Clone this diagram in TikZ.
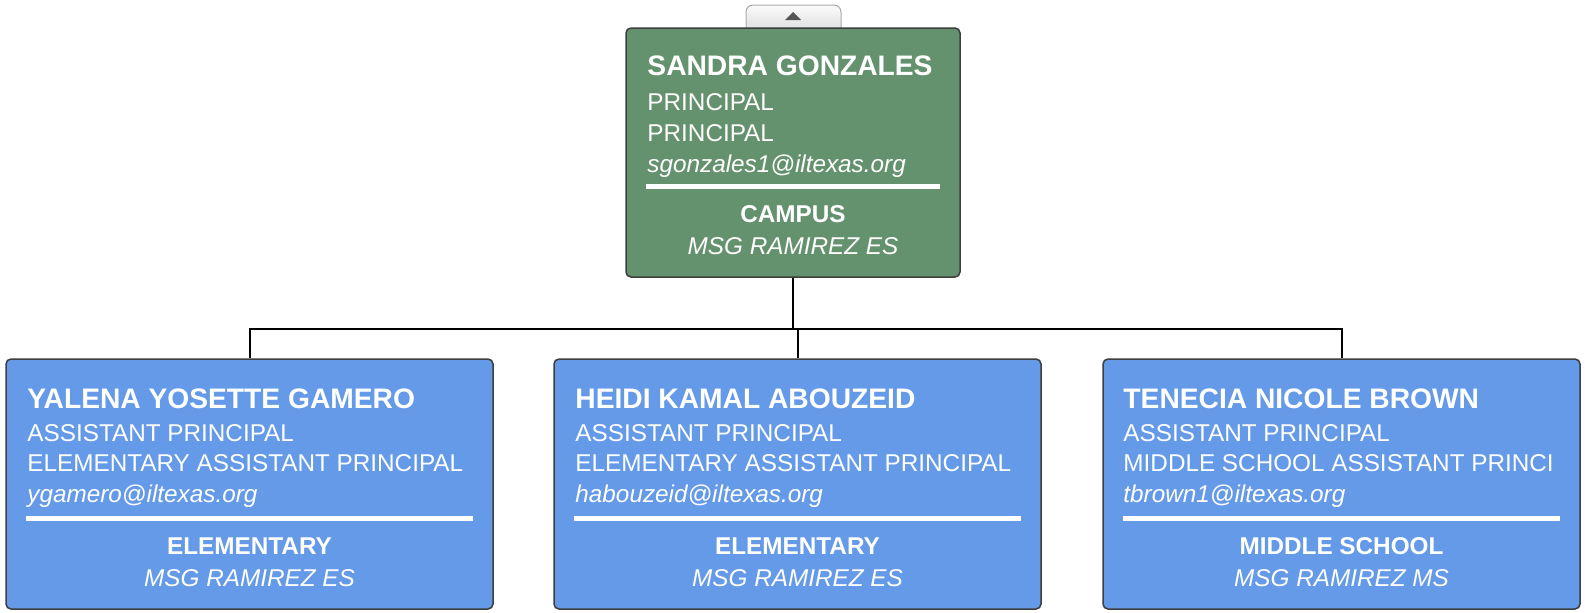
\documentclass[tikz,border=0pt]{standalone}
\usepackage{fontspec}
\setmainfont{Liberation Sans}
\usetikzlibrary{calc}
\definecolor{boxgreen}{RGB}{101,146,110}
\definecolor{boxblue}{RGB}{100,154,232}
\definecolor{boxborder}{RGB}{62,62,62}
\definecolor{tabborder}{RGB}{170,170,170}
\definecolor{tabtop}{RGB}{250,250,250}
\definecolor{tabbot}{RGB}{225,225,225}
\definecolor{arrowgray}{RGB}{85,85,85}
\tikzset{
  person/.style={draw=boxborder, line width=1.5pt, rounded corners=5pt, inner sep=0pt},
  greenbox/.style={person, fill=boxgreen},
  bluebox/.style={person, fill=boxblue},
  nm/.style={text=white, inner sep=0pt, anchor=base west, font=\fontsize{28.2}{30}\selectfont\bfseries},
  ln/.style={text=white, inner sep=0pt, anchor=base west, font=\fontsize{24.3}{30}\selectfont},
  em/.style={ln, font=\fontsize{24.3}{30}\selectfont\itshape},
  dept/.style={text=white, inner sep=0pt, anchor=base, font=\fontsize{24.3}{30}\selectfont\bfseries},
  camp/.style={text=white, inner sep=0pt, anchor=base, font=\fontsize{24.3}{30}\selectfont\itshape},
  sepline/.style={white, line width=5.5pt},
  conn/.style={black, line width=2pt},
}
\begin{document}
\begin{tikzpicture}[x=1pt,y=1pt]
\useasboundingbox (0,0) rectangle (1585,-613);

% collapse tab
\draw[tabborder, line width=1pt, top color=tabtop, bottom color=tabbot, rounded corners=7pt]
  (746,-29) -- (746,-5) -- (841,-5) -- (841,-29);
\fill[arrowgray] (785,-20) -- (801,-20) -- (793,-12) -- cycle;

% boxes
\node[greenbox, minimum width=334pt, minimum height=249pt] (top) at (793,-152.5) {};
\node[bluebox, minimum width=487pt, minimum height=250pt] (b1) at (249.5,-484) {};
\node[bluebox, minimum width=487pt, minimum height=250pt] (b2) at (797.5,-484) {};
\node[bluebox, minimum width=477pt, minimum height=250pt] (b3) at (1341.5,-484) {};

% connectors
\coordinate (bus) at (top.south |- 0,-329);
\draw[conn] (top.south) -- (bus);
\draw[conn] (b1.north) |- (bus);
\draw[conn] (b3.north) |- (bus);
\draw[conn] (b2.north) -- (b2.north |- bus);

% top box text
\node[nm] (t1) at ([xshift=22pt,yshift=-48pt]top.north west) {SANDRA GONZALES};
\node[ln] (t2) at ([xshift=22pt,yshift=-83pt]top.north west) {PRINCIPAL};
\node[ln] (t3) at ([xshift=22pt,yshift=-114pt]top.north west) {PRINCIPAL};
\node[em] (t4) at ([xshift=22pt,yshift=-145pt]top.north west) {sgonzales1@iltexas.org};
\draw[sepline] ([xshift=21pt,yshift=-159pt]top.north west) -- ([xshift=-21pt,yshift=-159pt]top.north east);
\node[dept] (t5) at ([yshift=-195pt]top.north) {CAMPUS};
\node[camp] (t6) at ([yshift=-227pt]top.north) {MSG RAMIREZ ES};

% box 1 text
\node[nm] (a1) at ([xshift=22pt,yshift=-50pt]b1.north west) {YALENA YOSETTE GAMERO};
\node[ln] (a2) at ([xshift=22pt,yshift=-83pt]b1.north west) {ASSISTANT PRINCIPAL};
\node[ln] (a3) at ([xshift=22pt,yshift=-113pt]b1.north west) {ELEMENTARY ASSISTANT PRINCIPAL};
\node[em] (a4) at ([xshift=22pt,yshift=-144pt]b1.north west) {ygamero@iltexas.org};
\draw[sepline] ([xshift=21pt,yshift=-160pt]b1.north west) -- ([xshift=-21pt,yshift=-160pt]b1.north east);
\node[dept] (a5) at ([yshift=-196pt]b1.north) {ELEMENTARY};
\node[camp] (a6) at ([yshift=-228pt]b1.north) {MSG RAMIREZ ES};

% box 2 text
\node[nm] (c1) at ([xshift=22pt,yshift=-50pt]b2.north west) {HEIDI KAMAL ABOUZEID};
\node[ln] (c2) at ([xshift=22pt,yshift=-83pt]b2.north west) {ASSISTANT PRINCIPAL};
\node[ln] (c3) at ([xshift=22pt,yshift=-113pt]b2.north west) {ELEMENTARY ASSISTANT PRINCIPAL};
\node[em] (c4) at ([xshift=22pt,yshift=-144pt]b2.north west) {habouzeid@iltexas.org};
\draw[sepline] ([xshift=21pt,yshift=-160pt]b2.north west) -- ([xshift=-21pt,yshift=-160pt]b2.north east);
\node[dept] (c5) at ([yshift=-196pt]b2.north) {ELEMENTARY};
\node[camp] (c6) at ([yshift=-228pt]b2.north) {MSG RAMIREZ ES};

% box 3 text
\node[nm] (d1) at ([xshift=21pt,yshift=-50pt]b3.north west) {TENECIA NICOLE BROWN};
\node[ln] (d2) at ([xshift=21pt,yshift=-83pt]b3.north west) {ASSISTANT PRINCIPAL};
\node[ln] (d3) at ([xshift=21pt,yshift=-113pt]b3.north west) {MIDDLE SCHOOL ASSISTANT PRINCI};
\node[em] (d4) at ([xshift=21pt,yshift=-144pt]b3.north west) {tbrown1@iltexas.org};
\draw[sepline] ([xshift=21pt,yshift=-160pt]b3.north west) -- ([xshift=-21pt,yshift=-160pt]b3.north east);
\node[dept] (d5) at ([yshift=-196pt]b3.north) {MIDDLE SCHOOL};
\node[camp] (d6) at ([yshift=-228pt]b3.north) {MSG RAMIREZ MS};
\end{tikzpicture}
\end{document}
